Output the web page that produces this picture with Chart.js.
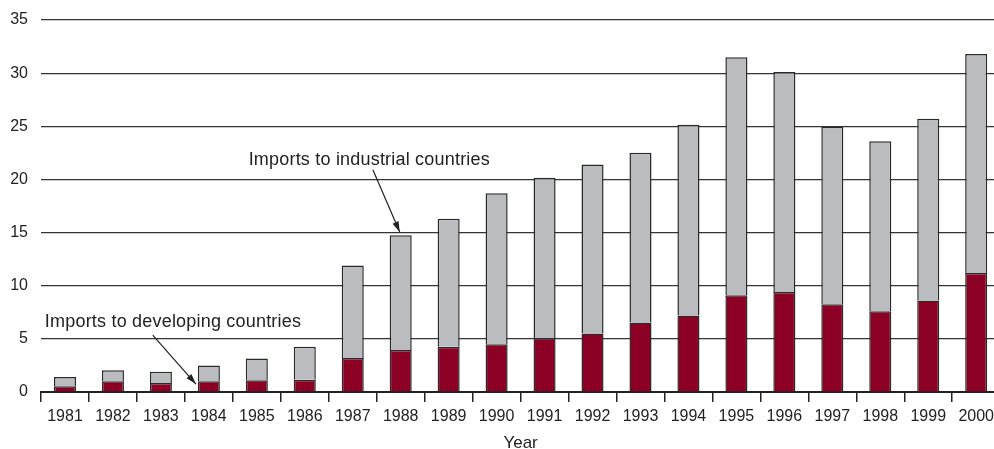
<!DOCTYPE html>
<html>
<head>
<meta charset="utf-8">
<script src="https://cdn.jsdelivr.net/npm/chart.js@4/dist/chart.umd.min.js"></script>
<style>
  html, body { margin: 0; padding: 0; background: #fff; overflow: hidden; }
  #wrap { width: 1001px; height: 455px; margin-top: -1px; }
</style>
</head>
<body>
<div id="wrap"><canvas id="myChart"></canvas></div>
<script>
// data
var years = ["1981","1982","1983","1984","1985","1986","1987","1988","1989","1990",
             "1991","1992","1993","1994","1995","1996","1997","1998","1999","2000"];
var developing = [0.55, 1.0, 0.85, 1.0, 1.1, 1.15, 3.2, 3.95, 4.25, 4.5,
                  5.05, 5.5, 6.55, 7.2, 9.1, 9.4, 8.25, 7.6, 8.6, 11.2];
var industrial = [0.85, 1.05, 1.05, 1.5, 2.05, 3.1, 8.7, 10.8, 12.05, 14.2,
                  15.1, 15.9, 15.95, 17.95, 22.4, 20.7, 16.7, 16.0, 17.1, 20.6];
var yTicks = [0, 5, 10, 15, 20, 25, 30, 35];

var fontFam = "'Liberation Sans', Arial, Helvetica, sans-serif";

// labels and arrows, placed in data units (category index, value)
var notes = [
  {text: "Imports to industrial countries", at: [3.83, 21.36], from: [6.42, 20.9], to: [6.98, 15.05]},
  {text: "Imports to developing countries", at: [-0.42, 6.11], from: [1.83, 5.35], to: [2.73, 0.75]}
];

var notePlugin = {
  id: "notes",
  afterDatasetsDraw: function(chart) {
    var c = chart.ctx, xs = chart.scales.x, ys = chart.scales.y;
    var px = function(i) { return xs.getPixelForValue(0) + i * (xs.getPixelForValue(1) - xs.getPixelForValue(0)); };
    c.save();
    c.font = "18px " + fontFam;
    if ("letterSpacing" in c) c.letterSpacing = "0.2px";
    c.fillStyle = "#222";
    c.textBaseline = "alphabetic";
    c.textAlign = "left";
    notes.forEach(function(n) {
      c.fillText(n.text, px(n.at[0]), ys.getPixelForValue(n.at[1]));
      var x1 = px(n.from[0]), y1 = ys.getPixelForValue(n.from[1]);
      var x2 = px(n.to[0]), y2 = ys.getPixelForValue(n.to[1]);
      c.strokeStyle = "#222";
      c.lineWidth = 1.2;
      c.beginPath(); c.moveTo(x1, y1); c.lineTo(x2, y2); c.stroke();
      var a = Math.atan2(y2 - y1, x2 - x1), L = 11, w = 0.3;
      c.beginPath();
      c.moveTo(x2, y2);
      c.lineTo(x2 - L * Math.cos(a - w), y2 - L * Math.sin(a - w));
      c.lineTo(x2 - L * Math.cos(a + w), y2 - L * Math.sin(a + w));
      c.closePath();
      c.fillStyle = "#222";
      c.fill();
    });
    c.restore();
  }
};

new Chart("myChart", {
  type: "bar",
  data: {
    labels: years,
    datasets: [{
      label: "Imports to developing countries",
      data: developing,
      backgroundColor: "#8c0025",
      borderColor: "#2a2a2a",
      borderWidth: 1.5,
      barPercentage: 0.46,
      categoryPercentage: 1
    }, {
      label: "Imports to industrial countries",
      data: industrial,
      backgroundColor: "#bbbcc0",
      borderColor: "#2a2a2a",
      borderWidth: 1.5,
      barPercentage: 0.46,
      categoryPercentage: 1
    }]
  },
  options: {
    responsive: true,
    maintainAspectRatio: false,
    animation: false,
    layout: {padding: {top: 0, right: 0, bottom: 0, left: 0}},
    plugins: {legend: {display: false}, tooltip: {enabled: false}},
    scales: {
      x: {
        stacked: true,
        offset: true,
        grid: {offset: true, drawOnChartArea: false, drawTicks: true, tickLength: 10, color: "#222", lineWidth: 1.5},
        border: {display: true, color: "#222", width: 2},
        ticks: {color: "#222", font: {family: fontFam, size: 16, lineHeight: 1}, padding: 7, maxRotation: 0, autoSkip: false},
        title: {display: true, text: "Year", color: "#222", font: {family: fontFam, size: 17, lineHeight: 1}, padding: {top: 2.5, bottom: 2.5}}
      },
      y: {
        stacked: true,
        min: 0,
        max: 35,
        afterBuildTicks: function(axis) { axis.ticks = yTicks.map(function(v) { return {value: v}; }); },
        afterFit: function(axis) { axis.width = 41; },
        grid: {drawTicks: false, color: "#333", lineWidth: 1.2},
        border: {display: false},
        ticks: {color: "#222", font: {family: fontFam, size: 16, lineHeight: 1}, padding: 13}
      }
    }
  },
  plugins: [notePlugin]
});
</script>
</body>
</html>
